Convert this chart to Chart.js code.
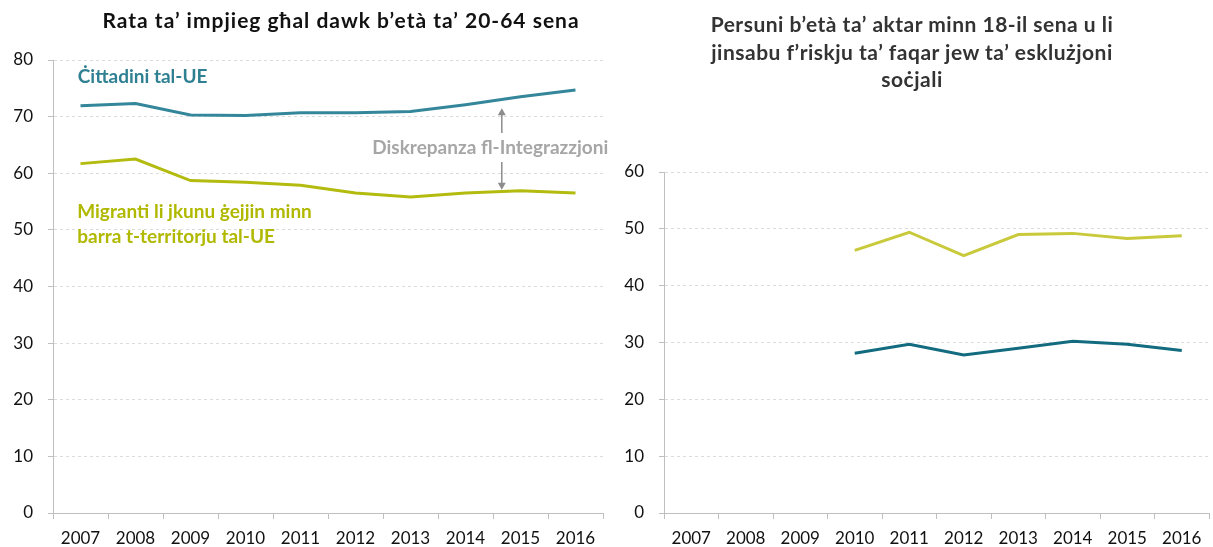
<!DOCTYPE html>
<html>
<head>
<meta charset="utf-8">
<script src="https://cdn.jsdelivr.net/npm/chart.js@4"></script>
<style>
  body { margin: 0; background: #fff; width: 1213px; height: 547px; overflow: hidden; position: relative; font-family: Lato, sans-serif; }
  .box { position: absolute; top: 0; }
  #leftBox { left: 0; width: 620px; height: 547px; }
  #rightBox { left: 620px; width: 593px; height: 547px; }
  .title { position: absolute; font-weight: bold; font-size: 21px; white-space: nowrap; text-align: center; transform: translateX(-50%); }
  #leftTitle { left: 341px; top: 8px; line-height: 24px; color: #111; letter-spacing: 1px; }
  #rightTitle { left: 912px; top: 10px; line-height: 27.5px; color: #333; letter-spacing: 0.5px; }
</style>
</head>
<body>
<div class="box" id="leftBox"><canvas id="leftChart" width="620" height="547"></canvas></div>
<div class="box" id="rightBox"><canvas id="rightChart" width="593" height="547"></canvas></div>
<div class="title" id="leftTitle">Rata ta’ impjieg għal dawk b’età ta’ 20-64 sena</div>
<div class="title" id="rightTitle">Persuni b’età ta’ aktar minn 18-il sena u li<br>jinsabu f’riskju ta’ faqar jew ta’ esklużjoni<br>soċjali</div>

<script>
// dati
const years = ['2007', '2008', '2009', '2010', '2011', '2012', '2013', '2014', '2015', '2016'];
const euEmployment = [71.9, 72.3, 70.3, 70.2, 70.7, 70.7, 70.9, 72.1, 73.5, 74.7];
const nonEuEmployment = [61.7, 62.5, 58.7, 58.4, 57.9, 56.5, 55.8, 56.5, 56.9, 56.5];
const euPoverty = [null, null, null, 28.1, 29.7, 27.8, 29.0, 30.2, 29.7, 28.6];
const nonEuPoverty = [null, null, null, 46.2, 49.4, 45.3, 49.0, 49.2, 48.3, 48.8];

const tealLeft = '#34879a';
const oliveLeft = '#b3bb0e';
const tealRight = '#136b80';
const oliveRight = '#c9ca3b';
const axisGray = '#bfbfbf';

function makeOptions(yMax, yWidth, padTop, padRight) {
  return {
    responsive: false,
    animation: false,
    layout: { padding: { top: padTop, right: padRight, left: 0, bottom: 0 } },
    plugins: { legend: { display: false }, tooltip: { enabled: false } },
    elements: { point: { radius: 0 }, line: { tension: 0, borderWidth: 3 } },
    scales: {
      x: {
        offset: true,
        grid: { offset: true, drawOnChartArea: false, drawTicks: true, tickLength: 6, tickColor: axisGray },
        border: { color: axisGray, width: 1 },
        ticks: { color: '#111', font: { family: 'Lato', size: 17 }, padding: 9, maxRotation: 0, autoSkip: false },
        afterFit: s => { s.height = 34; }
      },
      y: {
        min: 0,
        max: yMax,
        grid: { color: '#dcdcdc', tickLength: 5, tickColor: axisGray },
        border: { color: axisGray, width: 1, dash: [3, 3] },
        ticks: { stepSize: 10, color: '#111', font: { family: 'Lato', size: 17 }, padding: 15 },
        afterFit: s => { s.width = yWidth; }
      }
    }
  };
}

// testi e frecce sul grafico di sinistra
const leftNotes = {
  id: 'leftNotes',
  afterDatasetsDraw(chart) {
    const { ctx, scales: { x, y } } = chart;
    ctx.save();
    ctx.font = 'bold 19px Lato';
    ctx.textBaseline = 'middle';

    ctx.fillStyle = '#2e8092';
    ctx.textAlign = 'left';
    ctx.fillText('Ċittadini tal-UE', x.getPixelForValue(-0.05), y.getPixelForValue(77));

    ctx.fillStyle = '#b0b800';
    ctx.fillText('Migranti li jkunu ġejjin minn', x.getPixelForValue(-0.06), y.getPixelForValue(53.1));
    ctx.fillText('barra t-territorju tal-UE', x.getPixelForValue(-0.06), y.getPixelForValue(48.8));

    ctx.fillStyle = '#a6a6a6';
    ctx.textAlign = 'center';
    ctx.fillText('Diskrepanza fl-Integrazzjoni', x.getPixelForValue(7.45), y.getPixelForValue(64.4));

    // frecce
    const ax = x.getPixelForValue(7.66);
    ctx.strokeStyle = '#8c8c8c';
    ctx.fillStyle = '#8c8c8c';
    ctx.lineWidth = 1.5;
    const arrow = (from, to) => {
      const y1 = y.getPixelForValue(from), y2 = y.getPixelForValue(to);
      const dir = y2 < y1 ? -1 : 1;
      ctx.beginPath();
      ctx.moveTo(ax, y1);
      ctx.lineTo(ax, y2 - dir * 5);
      ctx.stroke();
      ctx.beginPath();
      ctx.moveTo(ax, y2);
      ctx.lineTo(ax - 4, y2 - dir * 7);
      ctx.lineTo(ax + 4, y2 - dir * 7);
      ctx.closePath();
      ctx.fill();
    };
    arrow(67.1, 71.5);
    arrow(62.0, 57.1);
    ctx.restore();
  }
};

new Chart(document.getElementById('leftChart'), {
  type: 'line',
  data: {
    labels: years,
    datasets: [
      { data: euEmployment, borderColor: tealLeft },
      { data: nonEuEmployment, borderColor: oliveLeft }
    ]
  },
  options: makeOptions(80, 53, 60, 17),
  plugins: [leftNotes]
});

new Chart(document.getElementById('rightChart'), {
  type: 'line',
  data: {
    labels: years,
    datasets: [
      { data: nonEuPoverty, borderColor: oliveRight },
      { data: euPoverty, borderColor: tealRight }
    ]
  },
  options: makeOptions(60, 44, 172, 4)
});
</script>
</body>
</html>
